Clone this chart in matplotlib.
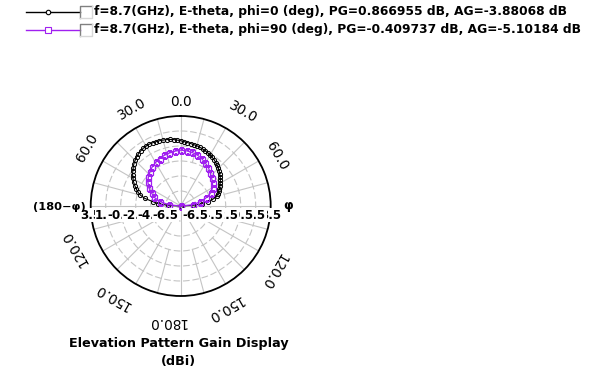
"""HFSS-style elevation pattern gain display (dBi), two phi cuts at 8.7 GHz."""

import numpy as np
import matplotlib
matplotlib.use("Agg")
import matplotlib.pyplot as plt
from matplotlib.lines import Line2D
from matplotlib.transforms import offset_copy

W, H = 611, 374

# --- data ------------------------------------------------------------------
# phi = 0 cut, theta every 3 deg, gain in dB
theta_phi0 = np.arange(-90, 91, 3)
gain_phi0 = [
    -9.0, -6.8, -5.5, -4.7, -3.6, -2.95, -2.5, -2.15, -1.8, -1.45, -1.15,
    -0.85, -0.6, -0.35, -0.1, 0.1, 0.3, 0.45, 0.58, 0.67, 0.73, 0.75, 0.72,
    0.68, 0.65, 0.6, 0.55, 0.48, 0.4, 0.3, 0.2, 0.1, 0.0, -0.07, -0.13,
    -0.18, -0.26, -0.35, -0.45, -0.55, -0.65, -0.77, -0.9, -1.05, -1.22,
    -1.4, -1.6, -1.8, -2.0, -2.2, -2.45, -2.65, -2.85, -3.1, -3.3, -3.55,
    -4.1, -4.8, -5.7, -6.9, -9.0,
]
# phi = 90 cut, theta every 6 deg
theta_phi90 = np.arange(-90, 91, 6)
gain_phi90 = [
    -9.0, -6.9, -5.7, -4.8, -4.25, -3.6, -3.1, -2.7, -2.35, -2.05, -1.8,
    -1.57, -1.4, -1.28, -1.15, -1.05, -1.1, -1.2, -1.35, -1.6, -1.9, -2.2,
    -2.6, -2.95, -3.25, -3.6, -4.1, -4.9, -5.9, -6.9, -9.0,
]

legend_labels = [
    "f=8.7(GHz), E-theta, phi=0 (deg), PG=0.866955 dB, AG=-3.88068 dB",
    "f=8.7(GHz), E-theta, phi=90 (deg), PG=-0.409737 dB, AG=-5.10184 dB",
]
ring_values = [-8.5, -6.5, -4.5, -2.5, -0.5, 1.5, 3.5]
ring_labels = ["-8.5", "-6.5", "-4.5", "-2.5", "-0.5", "1.5", "3.5"]

R_MIN, R_MAX = ring_values[0], ring_values[-1]
PURPLE = "#a020f0"

# --- layout -----------------------------------------------------------------
fig = plt.figure(figsize=(W / 100, H / 100), dpi=100)
fig.patch.set_facecolor("white")

cx, cy, rad = 180.7, 206.0, 90.0     # polar centre / radius in pixels
ax = fig.add_axes([(cx - rad) / W, 1 - (cy + rad) / H, 2 * rad / W, 2 * rad / H],
                  projection="polar")
ax.set_theta_zero_location("N")
ax.set_theta_direction(-1)
ax.set_rlim(R_MIN, R_MAX)
ax.set_rticks(ring_values[1:-1])
ax.set_yticklabels([])
ax.set_xticks(np.deg2rad(np.arange(0, 360, 30)))
ax.set_xticklabels([])
ax.tick_params(length=0, pad=0)
ax.xaxis.grid(True, color="#c4c4c4", lw=0.8, ls="-")
ax.yaxis.grid(True, color="#c4c4c4", lw=0.8, ls=(0, (6, 2.5)))
ax.spines["polar"].set_linewidth(1.3)
ax.spines["polar"].set_color("black")

# short intermediate spokes in the outer rings
for a in np.arange(15, 360, 30):
    ax.plot(np.deg2rad([a, a]), [ring_values[3], R_MAX], color="#c4c4c4",
            lw=0.8, zorder=1)

ax.plot(np.deg2rad(theta_phi0), np.clip(gain_phi0, R_MIN, None), color="black",
        lw=0.8, marker="o", ms=3.0, mfc="none", mew=0.7, zorder=3)
ax.plot(np.deg2rad(theta_phi90), np.clip(gain_phi90, R_MIN, None), color=PURPLE,
        lw=0.9, marker="s", ms=3.6, mfc="none", mew=0.9, zorder=4)


def px_to_r(p):
    return R_MIN + p / rad * (R_MAX - R_MIN)


# angle labels: (text, rotation angle, position angle, radius px)
angle_labels = [
    ("0.0", 0, 0, 104), ("30.0", 30, 33.6, 113), ("60.0", 60, 62.3, 108.4),
    ("120.0", 120, 124.9, 113), ("150.0", 150, 156.6, 111.5),
    ("180.0", 180, 186.9, 116.5), ("150.0", -150, -143, 113.6),
    ("120.0", -120, -111.9, 113.2), ("60.0", -60, -58.3, 109.8),
    ("30.0", -30, -26.5, 108.4),
]
for txt, rot, pos, rp in angle_labels:
    ax.text(np.deg2rad(pos), px_to_r(rp), txt, rotation=-rot, ha="center",
            va="center", fontsize=9.8, family="DejaVu Sans", clip_on=False,
            rotation_mode="anchor")

# radial labels along the horizontal, overlapping like the original
lab_tr = offset_copy(ax.transData, fig=fig, x=0, y=-9, units="dots")
for side in (-90, 90):
    for val, lab in list(zip(ring_values, ring_labels))[:0:-1]:
        ax.text(np.deg2rad(side), val, lab, transform=lab_tr, ha="center",
                va="center", fontsize=8.6, fontweight="bold", clip_on=False,
                zorder=6, bbox=dict(fc="white", ec="none", pad=0.2))

fig.text(86 / W, 1 - 207 / H, "(180\u2212\u03c6)", ha="right", va="center",
         fontsize=8.2, fontweight="bold")
fig.text(283 / W, 1 - 206 / H, "\u03c6", ha="left", va="center",
         fontsize=9, fontweight="bold")

fig.text(178.5 / W, 1 - 344 / H, "Elevation Pattern Gain Display", ha="center",
         va="center", fontsize=9.2, fontweight="bold")
fig.text(178.5 / W, 1 - 362 / H, "(dBi)", ha="center", va="center",
         fontsize=9.2, fontweight="bold")

# --- legend -----------------------------------------------------------------
rows = [(12, "black", "o", 3.2), (30, PURPLE, "s", 3.8)]
for (yy, col, mk, ms), lab in zip(rows, legend_labels):
    fy = 1 - yy / H
    fig.add_artist(Line2D([26 / W, 80 / W], [fy, fy], color=col, lw=1.0))
    fig.add_artist(Line2D([48 / W], [fy], color=col, marker=mk, ms=ms,
                          mfc="white", mew=0.8))
    # sunken checkbox
    x0, x1, y0, y1 = 80, 92, yy - 6, yy + 6
    fig.add_artist(Line2D([x0 / W, x0 / W, x1 / W], [1 - y1 / H, 1 - y0 / H, 1 - y0 / H],
                          color="#808080", lw=1.0))
    fig.add_artist(Line2D([x0 / W, x1 / W, x1 / W], [1 - y1 / H, 1 - y1 / H, 1 - y0 / H],
                          color="#d8d8d8", lw=1.0))
    fig.text(94 / W, fy, lab, ha="left", va="center", fontsize=8.8,
             fontweight="bold")

fig.savefig("out.png", dpi=100, facecolor="white")
